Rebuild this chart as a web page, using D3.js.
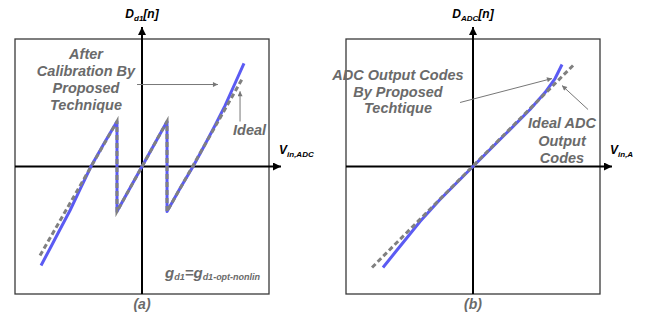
<!DOCTYPE html>
<html>
<head>
<meta charset="utf-8">
<script src="https://cdn.jsdelivr.net/npm/d3@7"></script>
<style>
  html, body { margin: 0; padding: 0; background: #fff; }
  svg { display: block; }
  text { font-family: "Liberation Sans", Arial, sans-serif; font-weight: bold; font-style: italic; }
</style>
</head>
<body>
<svg id="chart" width="651" height="320"></svg>
<script>
// ---- Data (normalised units, both axes span -1..1 inside each frame) ----
// Panel (a): calibrated residue curve (blue) and ideal (gray dashed)
const aBlueSeg1X = [-0.795, -0.724, -0.646, -0.567, -0.488, -0.402, -0.299, -0.197];
const aBlueSeg1Y = [-0.776, -0.643, -0.494, -0.345, -0.180, 0.000, 0.180, 0.353];
const aBlueSeg2X = [-0.197, 0.197];
const aBlueSeg2Y = [-0.353, 0.353];
const aBlueSeg3X = [0.197, 0.299, 0.402, 0.496, 0.575, 0.654, 0.732, 0.803];
const aBlueSeg3Y = [-0.353, -0.173, 0.000, 0.173, 0.322, 0.478, 0.651, 0.808];
const aIdealX = [-0.803, -0.197, -0.197, 0.197, 0.197, 0.795];
const aIdealY = [-0.698, 0.353, -0.353, 0.353, -0.353, 0.698];
// Panel (b): ADC output codes (blue) and ideal (gray dashed)
const bBlueX = [-0.709, -0.614, -0.512, -0.417, -0.260, 0.000, 0.252, 0.449, 0.567, 0.646, 0.701];
const bBlueY = [-0.792, -0.675, -0.549, -0.431, -0.259, 0.000, 0.251, 0.447, 0.580, 0.690, 0.800];
const bIdealX = [-0.795, 0.803];
const bIdealY = [-0.792, 0.808];
// Labels
const panelLabels = ["(a)", "(b)"];
const annotA = ["After", "Calibration By", "Proposed", "Technique"];
const annotB = ["ADC Output Codes", "By Proposed", "Techtique"];
const idealB = ["Ideal ADC", "Output", "Codes"];

const svg = d3.select("#chart");
const BLUE = "#5b5bf3", GRAY = "#808080", TXT = "#6a6a6a";

const yS = d3.scaleLinear().domain([-1, 1]).range([294, 39]);
const xA = d3.scaleLinear().domain([-1, 1]).range([15, 269]);
const xB = d3.scaleLinear().domain([-1, 1]).range([346, 600]);

const defs = svg.append("defs");
defs.append("marker").attr("id", "axh").attr("viewBox", "0 0 10 10")
  .attr("refX", 10).attr("refY", 5).attr("markerWidth", 10).attr("markerHeight", 8)
  .attr("markerUnits", "userSpaceOnUse").attr("orient", "auto")
  .append("path").attr("d", "M0,0 L10,5 L0,10 Z").attr("fill", "#000");
defs.append("marker").attr("id", "anh").attr("viewBox", "0 0 10 10")
  .attr("refX", 10).attr("refY", 5).attr("markerWidth", 7).attr("markerHeight", 5)
  .attr("markerUnits", "userSpaceOnUse").attr("orient", "auto")
  .append("path").attr("d", "M0,0 L10,5 L0,10 Z").attr("fill", "#777");
// the original figure is cropped at its right edge
defs.append("clipPath").attr("id", "crop")
  .append("rect").attr("x", 0).attr("y", 0).attr("width", 633).attr("height", 320);

const zip = (xs, ys) => xs.map((x, i) => [x, ys[i]]);

function panel(xS, blueSegs, idealPts, label, yLabel, xLabel) {
  const g = svg.append("g").attr("clip-path", "url(#crop)");
  // frame
  g.append("rect").attr("x", xS(-1)).attr("y", yS(1))
    .attr("width", xS(1) - xS(-1)).attr("height", yS(-1) - yS(1))
    .attr("fill", "none").attr("stroke", "#3a3a3a").attr("stroke-width", 1.3);
  // axes
  g.append("line").attr("x1", xS(0)).attr("x2", xS(0)).attr("y1", yS(-1)).attr("y2", 27)
    .attr("stroke", "#000").attr("stroke-width", 2).attr("marker-end", "url(#axh)");
  g.append("line").attr("x1", xS(-1)).attr("x2", xS(1) + 12).attr("y1", yS(0)).attr("y2", yS(0))
    .attr("stroke", "#000").attr("stroke-width", 2).attr("marker-end", "url(#axh)");
  const line = d3.line().x(d => xS(d[0])).y(d => yS(d[1]));
  // blue curve
  const bluePts = blueSegs.flat();
  g.append("path").attr("d", line(bluePts)).attr("fill", "none")
    .attr("stroke", BLUE).attr("stroke-width", 3).attr("stroke-linejoin", "round");
  // ideal dashed
  g.append("path").attr("d", line(idealPts)).attr("fill", "none")
    .attr("stroke", GRAY).attr("stroke-width", 3).attr("stroke-dasharray", "5,3");
  // panel label
  g.append("text").attr("x", xS(0)).attr("y", 309).attr("text-anchor", "middle")
    .attr("font-size", 14).attr("fill", TXT).text(label);
  // y label
  const yl = g.append("text").attr("x", xS(0)).attr("y", 18).attr("text-anchor", "middle")
    .attr("font-size", 12).attr("fill", "#000");
  yl.append("tspan").text(yLabel[0]);
  yl.append("tspan").attr("font-size", 8).attr("dy", 3).text(yLabel[1]);
  yl.append("tspan").attr("dy", -3).text("[n]");
  // x label
  const xl = g.append("text").attr("x", xS(1) + 10).attr("y", 154)
    .attr("font-size", 12).attr("fill", "#000");
  xl.append("tspan").text("V");
  xl.append("tspan").attr("font-size", 8).attr("dy", 3).text(xLabel);
  return g;
}

const gA = panel(xA, [zip(aBlueSeg1X, aBlueSeg1Y), zip(aBlueSeg2X, aBlueSeg2Y), zip(aBlueSeg3X, aBlueSeg3Y)],
  zip(aIdealX, aIdealY), panelLabels[0], ["D", "d1"], "in,ADC");
const gB = panel(xB, [zip(bBlueX, bBlueY)], zip(bIdealX, bIdealY), panelLabels[1], ["D", "ADC"], "in,ADC");

function multiline(g, lines, cx, y0, dy) {
  lines.forEach((t, i) => g.append("text").attr("x", cx).attr("y", y0 + i * dy)
    .attr("text-anchor", "middle").attr("font-size", 14.5).attr("fill", TXT).text(t));
}
function arrow(g, xS, p0, p1) {
  g.append("line").attr("x1", xS(p0[0])).attr("y1", yS(p0[1]))
    .attr("x2", xS(p1[0])).attr("y2", yS(p1[1]))
    .attr("stroke", "#777").attr("stroke-width", 1).attr("marker-end", "url(#anh)");
}

// Panel (a) annotations
multiline(gA, annotA, 86, 59, 17);
arrow(gA, xA, [-0.039, 0.643], [0.598, 0.643]);
gA.append("text").attr("x", 233).attr("y", 135).attr("font-size", 14.5).attr("fill", TXT).text("Ideal");
arrow(gA, xA, [0.772, 0.353], [0.772, 0.59]);
const gt = gA.append("text").attr("x", 165).attr("y", 278).attr("fill", TXT).attr("font-size", 15);
gt.append("tspan").text("g");
gt.append("tspan").attr("font-size", 9).attr("dy", 2).text("d1");
gt.append("tspan").attr("dy", -2).text("=g");
gt.append("tspan").attr("font-size", 9).attr("dy", 2).text("d1-opt-nonlin");

// Panel (b) annotations
multiline(gB, annotB, 398, 80, 16.5);
arrow(gB, xB, [-0.102, 0.502], [0.622, 0.690]);
multiline(gB, idealB, 562, 128, 17.5);
arrow(gB, xB, [0.906, 0.447], [0.701, 0.635]);
</script>
</body>
</html>
